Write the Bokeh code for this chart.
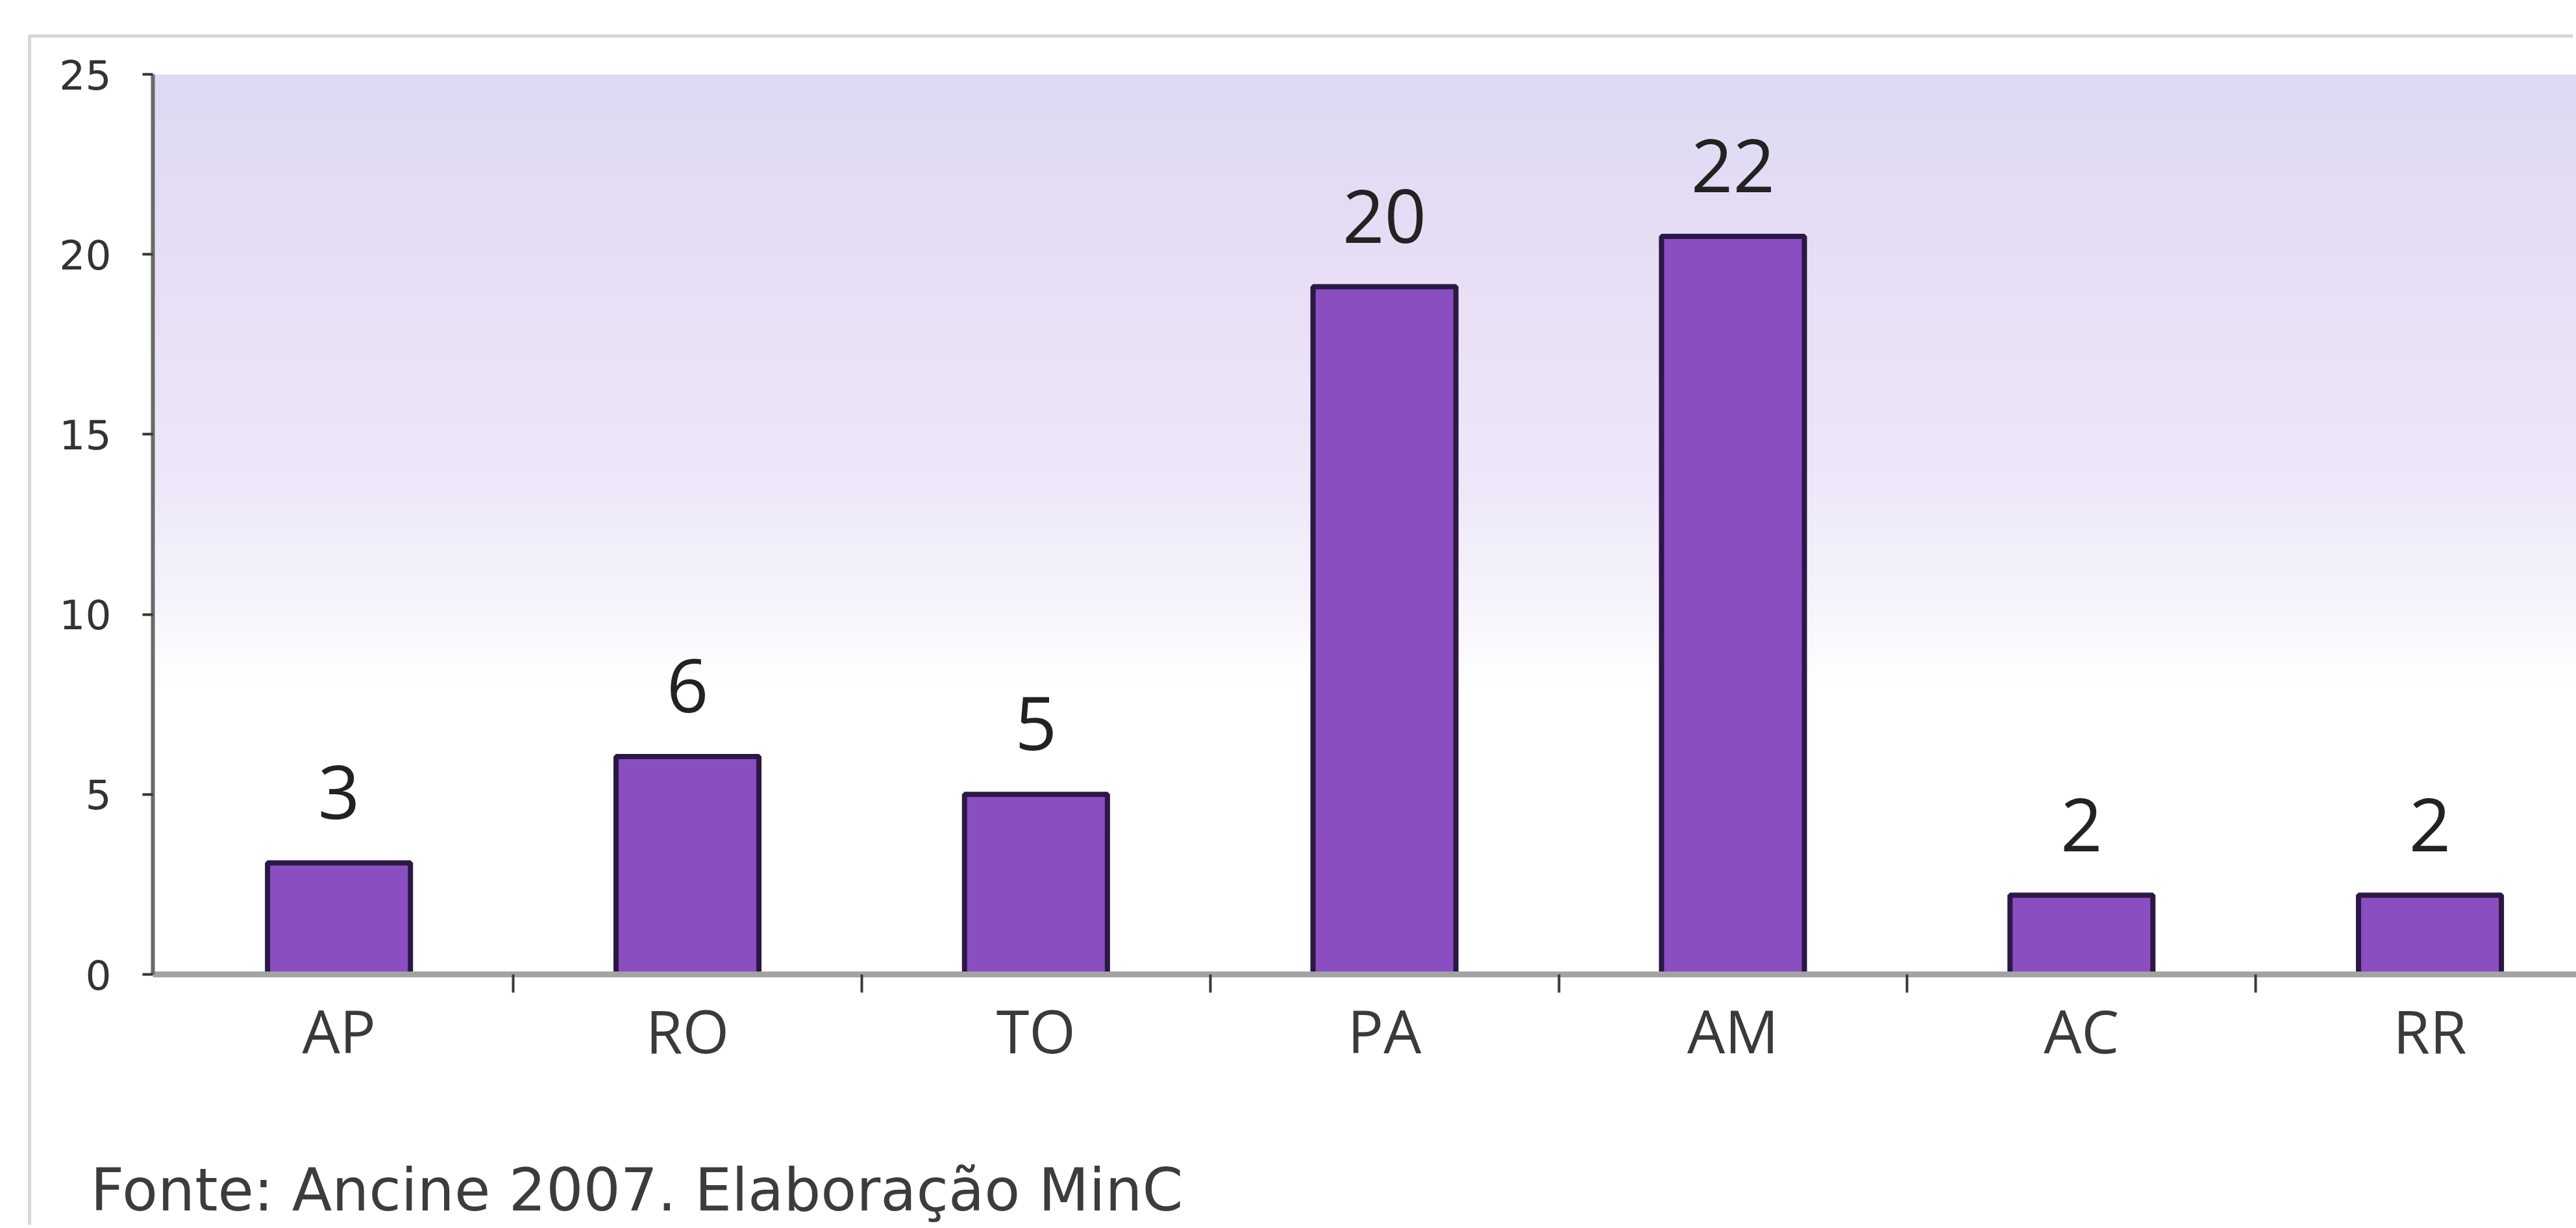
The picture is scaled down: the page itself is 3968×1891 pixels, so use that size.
import numpy as np
from bokeh.plotting import figure
from bokeh.models import Range1d, FixedTicker, Title, LinearAxis
from bokeh.core.properties import value
from bokeh.embed import file_html
from bokeh.resources import INLINE

# ---- data ----
states = ["AP", "RO", "TO", "PA", "AM", "AC", "RR"]
bar_heights = [3.1, 6.05, 5.0, 19.1, 20.5, 2.2, 2.2]      # heights as drawn
value_labels = ["3", "6", "5", "20", "22", "2", "2"]        # printed labels
y_ticks = [0, 5, 10, 15, 20, 25]
source_note = "Fonte: Ancine 2007. Elaboração MinC"

xs = list(range(len(states)))
boundaries = [i + 0.5 for i in range(len(states))]

OFF_X, OFF_Y = 48, 58
W, H = 3968 - OFF_X, 1891 - OFF_Y

p = figure(width=W, height=H, output_backend="svg", toolbar_location=None,
           x_range=Range1d(-0.534, 6.42), y_range=Range1d(0, 25),
           min_border_left=235 - OFF_X, min_border_top=114 - OFF_Y,
           min_border_bottom=391, min_border_right=0)
p.margin = (OFF_Y, 0, 0, OFF_X)
p.styles = {"box-shadow": "-5px -5px 0px 0px #d8d8d8"}

p.background_fill_color = "white"
p.border_fill_color = "white"
p.outline_line_color = None
p.xgrid.visible = False
p.ygrid.visible = False

# ---- background gradient (style only) ----
stops_v = [8.0, 10.5, 14.0, 19.0, 23.5, 25.0]
stops_c = [(255, 255, 255), (246, 243, 252), (237, 231, 249),
           (233, 223, 246), (225, 219, 244), (220, 218, 243)]
n = 300
ys = np.linspace(8.0, 25, n)
img = np.empty((n, 1), dtype=np.uint32)
view = img.view(dtype=np.uint8).reshape((n, 1, 4))
for k in range(3):
    view[:, 0, k] = np.interp(ys, stops_v, [c[k] for c in stops_c]).astype(np.uint8)
view[:, 0, 3] = 255
p.image_rgba(image=[img], x=-0.6, y=8.0, dw=7.2, dh=17.0)

# ---- bars ----
p.vbar(x=xs, top=bar_heights, width=0.41, bottom=0,
       fill_color="#8a4ec1", line_color="#2b1845", line_width=8)

# ---- value labels ----
p.text(x=xs, y=bar_heights, text=value_labels, text_align="center",
       text_baseline="middle", y_offset=-109,
       text_font=value("Open Sans"), text_font_size="113px", text_color="#222222")

# ---- x axis ----
xa = p.xaxis[0]
xa.ticker = FixedTicker(ticks=xs, minor_ticks=boundaries)
xa.major_label_overrides = {i: s for i, s in zip(xs, states)}
xa.axis_line_color = "#a3a3a3"
xa.axis_line_width = 9
xa.major_tick_line_color = None
xa.major_tick_out = 0
xa.major_tick_in = 0
xa.minor_tick_line_color = "#3a3a3a"
xa.minor_tick_line_width = 4
xa.minor_tick_out = 28
xa.minor_tick_in = 0
xa.major_label_standoff = -5
xa.major_label_text_font = "Open Sans"
xa.major_label_text_font_size = "92px"
xa.major_label_text_color = "#3a3a3a"

# ---- y axis ----
ya = p.yaxis[0]
ya.ticker = FixedTicker(ticks=y_ticks)
ya.axis_line_color = "#6a6a6a"
ya.axis_line_width = 6
ya.major_tick_line_color = "#333333"
ya.major_tick_line_width = 4
ya.major_tick_out = 16
ya.major_tick_in = 0
ya.minor_tick_line_color = None
ya.major_label_standoff = 48
ya.major_label_text_font = "DejaVu Sans"
ya.major_label_text_font_size = "63px"
ya.major_label_text_color = "#333333"

# ---- invisible spacer between axis and source note ----
spacer = LinearAxis(ticker=FixedTicker(ticks=[3]), axis_line_color=None,
                    major_tick_line_color="#ffffff", major_tick_line_alpha=0.0,
                    minor_tick_line_color=None,
                    major_tick_out=126, major_tick_in=0, minor_tick_out=0,
                    minor_tick_in=0, major_label_standoff=0,
                    major_label_overrides={3: ""},
                    major_label_text_font_size="1px",
                    major_label_text_color="#ffffff")
p.add_layout(spacer, "below")

# ---- source note ----
note = Title(text=source_note, align="left", offset=139 - 235, standoff=0,
             vertical_align="bottom",
             text_font="DejaVu Sans", text_font_size="90px",
             text_color="#3c3c3c", text_font_style="normal")
p.add_layout(note, "below")

open("out.html", "w").write(file_html(p, INLINE))
